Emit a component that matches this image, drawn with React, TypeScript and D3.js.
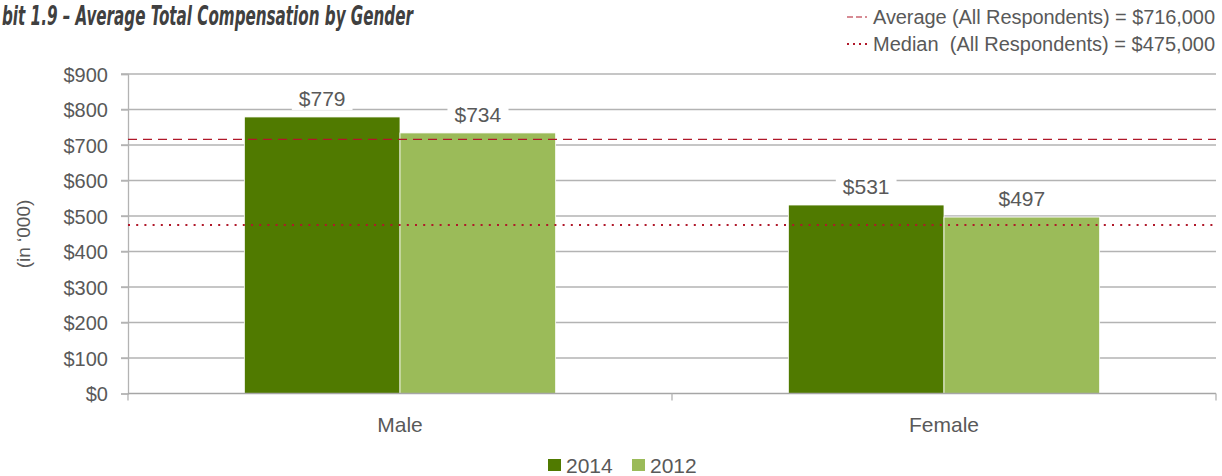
import React, { useEffect, useRef } from "react";
import * as d3 from "d3";

const categories = ["Male", "Female"];
const years = ["2014", "2012"];
const values2014 = [779, 531];
const values2012 = [734, 497];
const yTicks = [0, 100, 200, 300, 400, 500, 600, 700, 800, 900];
const averageAll = 716;
const medianAll = 475;

const W = 1222;
const H = 476;
const FONT = "'Liberation Sans', Arial, Helvetica, sans-serif";
const colors = ["#507a00", "#9bbb59"];
const refRed = "#b0182a";

const App = () => {
  const svgRef = useRef<SVGSVGElement | null>(null);

  useEffect(() => {
    const svg = d3.select(svgRef.current);
    svg.selectAll("*").remove();

    const left = 128;
    const right = 1216;
    const top = 74;
    const bottom = 393.5;

    const x = d3.scaleBand().domain(categories).range([left, right]).paddingInner(0).paddingOuter(0);
    const xs = d3.scaleBand().domain(years).range([0, x.bandwidth()]).paddingInner(0).paddingOuter(0.7475);
    const y = d3.scaleLinear().domain([0, 900]).range([bottom, top]);

    // title (cropped at left, as in the source)
    svg
      .append("text")
      .attr("x", 2)
      .attr("y", 25)
      .attr("font-family", "'Liberation Sans Narrow', 'DejaVu Sans Condensed', sans-serif")
      .attr("font-weight", "bold")
      .attr("font-style", "italic")
      .attr("font-size", 26)
      .attr("fill", "#404040")
      .attr("textLength", 411)
      .attr("lengthAdjust", "spacingAndGlyphs")
      .text("bit 1.9 – Average Total Compensation by Gender");

    // reference legend top right
    const refLeg = [
      { label: "Average (All Respondents) = $716,000", dash: "6,3", y: 24, sw: 1.2 },
      { label: "Median  (All Respondents) = $475,000", dash: "2,4", y: 51, sw: 2 },
    ];
    refLeg.forEach((r) => {
      svg
        .append("line")
        .attr("x1", 847)
        .attr("x2", 867)
        .attr("y1", r.y - 7)
        .attr("y2", r.y - 7)
        .attr("stroke", refRed)
        .attr("stroke-width", r.sw)
        .attr("stroke-dasharray", r.dash);
      svg
        .append("text")
        .attr("x", 873)
        .attr("y", r.y)
        .attr("font-family", FONT)
        .attr("font-size", 20)
        .attr("fill", "#595959")
        .attr("textLength", 342)
        .attr("lengthAdjust", "spacing")
        .style("white-space", "pre")
        .text(r.label);
    });

    // gridlines
    svg
      .append("g")
      .selectAll("line")
      .data(yTicks.filter((t) => t > 0))
      .enter()
      .append("line")
      .attr("x1", left - 7)
      .attr("x2", right)
      .attr("y1", (d) => y(d))
      .attr("y2", (d) => y(d))
      .attr("stroke", "#b3b3b3")
      .attr("stroke-width", 1.3);

    // y axis
    const yAxis = svg
      .append("g")
      .attr("transform", `translate(${left},0)`)
      .call(d3.axisLeft(y).tickValues(yTicks).tickSize(7).tickFormat((d) => `$${d}`));
    yAxis.attr("font-family", FONT).attr("font-size", 20);
    yAxis.select(".domain").attr("stroke", "#b3b3b3").attr("stroke-width", 1.3);
    yAxis.selectAll(".tick line").attr("stroke", "#b3b3b3").attr("stroke-width", 1.3);
    yAxis
      .selectAll(".tick text")
      .attr("x", -20)
      .attr("dy", "0.35em")
      .attr("fill", "#595959");

    svg
      .append("text")
      .attr("transform", `translate(30,234) rotate(-90)`)
      .attr("text-anchor", "middle")
      .attr("font-family", FONT)
      .attr("font-size", 19)
      .attr("fill", "#595959")
      .text("(in ‘000)");

    // bars
    const series = [values2014, values2012];
    const groups = svg
      .append("g")
      .selectAll("g")
      .data(categories)
      .enter()
      .append("g")
      .attr("transform", (d) => `translate(${x(d)},0)`);

    groups.each(function (cat, ci) {
      const g = d3.select(this);
      years.forEach((yr, si) => {
        const v = series[si][ci];
        g.append("rect")
          .attr("x", xs(yr)!)
          .attr("y", y(v))
          .attr("width", xs.bandwidth())
          .attr("height", bottom - y(v))
          .attr("fill", colors[si])
          .attr("stroke", "#ffffff")
          .attr("stroke-width", 0.8);
        const cx = xs(yr)! + xs.bandwidth() / 2;
        const t = g
          .append("text")
          .attr("x", cx)
          .attr("y", y(v) - 11)
          .attr("text-anchor", "middle")
          .attr("font-family", FONT)
          .attr("font-size", 21)
          .attr("fill", "#595959")
          .text(`$${v}`);
        const bb = (t.node() as SVGTextElement).getBBox();
        g.insert("rect", () => t.node())
          .attr("x", bb.x - 7)
          .attr("y", bb.y)
          .attr("width", bb.width + 14)
          .attr("height", bb.height)
          .attr("fill", "#ffffff");
      });
    });

    // x axis
    svg
      .append("line")
      .attr("x1", left)
      .attr("x2", right)
      .attr("y1", bottom)
      .attr("y2", bottom)
      .attr("stroke", "#a6a6a6")
      .attr("stroke-width", 1.5);
    const xTickPos = [left, ...categories.map((c) => x(c)! + x.bandwidth())];
    svg
      .append("g")
      .selectAll("line")
      .data(xTickPos)
      .enter()
      .append("line")
      .attr("x1", (d) => d)
      .attr("x2", (d) => d)
      .attr("y1", bottom)
      .attr("y2", bottom + 7)
      .attr("stroke", "#b3b3b3")
      .attr("stroke-width", 1.3);
    svg
      .append("g")
      .selectAll("text")
      .data(categories)
      .enter()
      .append("text")
      .attr("x", (d) => x(d)! + x.bandwidth() / 2)
      .attr("y", 432)
      .attr("text-anchor", "middle")
      .attr("font-family", FONT)
      .attr("font-size", 21)
      .attr("fill", "#595959")
      .text((d) => d);

    // reference lines
    svg
      .append("line")
      .attr("x1", left)
      .attr("x2", right)
      .attr("y1", y(averageAll))
      .attr("y2", y(averageAll))
      .attr("stroke", refRed)
      .attr("stroke-width", 1.3)
      .attr("stroke-dasharray", "9,6");
    svg
      .append("line")
      .attr("x1", left)
      .attr("x2", right)
      .attr("y1", y(medianAll))
      .attr("y2", y(medianAll))
      .attr("stroke", refRed)
      .attr("stroke-width", 2)
      .attr("stroke-dasharray", "2,6.2");

    // bottom legend
    const legX = [548, 632];
    years.forEach((yr, i) => {
      svg
        .append("rect")
        .attr("x", legX[i])
        .attr("y", 459)
        .attr("width", 13)
        .attr("height", 12)
        .attr("fill", colors[i]);
      svg
        .append("text")
        .attr("x", legX[i] + 18)
        .attr("y", 473)
        .attr("font-family", FONT)
        .attr("font-size", 21)
        .attr("fill", "#595959")
        .text(yr);
    });
  }, []);

  return (
    <svg
      ref={svgRef}
      width={W}
      height={H}
      style={{ position: "absolute", left: 0, top: 0, background: "#ffffff" }}
    />
  );
};

export default App;
